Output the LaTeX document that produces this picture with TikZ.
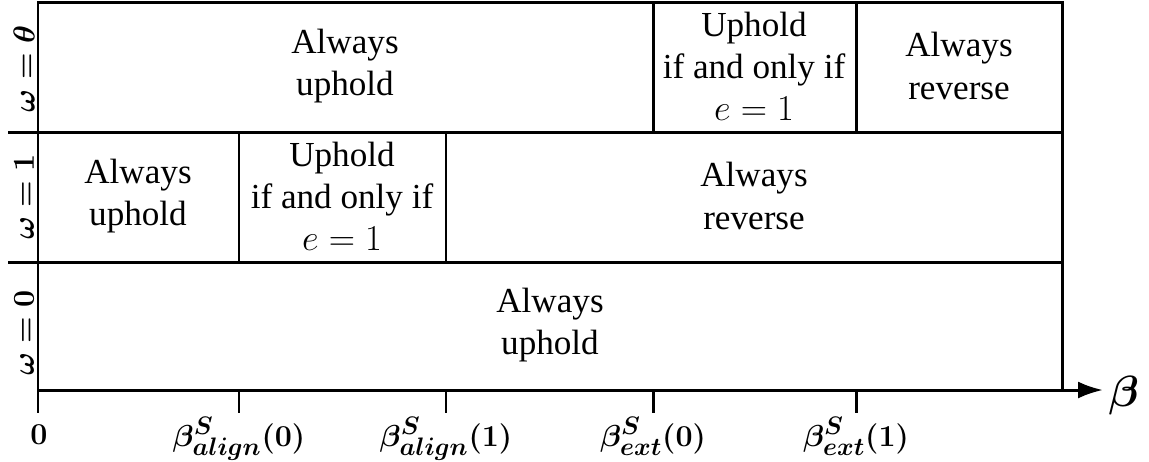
\documentclass[tikz,border=0pt]{standalone}
\usepackage{fontspec}
\setmainfont{Liberation Serif}
\usetikzlibrary{arrows.meta}
\DeclareMathSizes{17}{17}{13.5}{10}
\begin{document}
	\begin{tikzpicture}[x = 0.02cm, y = -0.02cm, line width = 1.7pt,
		cell/.style = {align = center, font = \fontsize{20}{24}\selectfont},
		rowlab/.style = {rotate = 90, font = \fontsize{17}{20}\selectfont\boldmath},
		ticklab/.style = {anchor = base, inner sep = 0, font = \fontsize{17}{20}\selectfont\boldmath}]
		\useasboundingbox (0,0) rectangle (1149,461);
		% grid of the three rows
		\draw (38,2.5) rectangle (1062,390);
		\draw (8,132) -- (1062,132);
		\draw (8,262) -- (1062,262);
		\draw (653,2.5) -- (653,132);
		\draw (856,2.5) -- (856,132);
		\draw (239,132) -- (239,262);
		\draw (446,132) -- (446,262);
		% axis and ticks
		\coordinate (b0) at (38,390);
		\coordinate (ba0) at (239,390);
		\coordinate (ba1) at (446,390);
		\coordinate (be0) at (653,390);
		\coordinate (be1) at (856,390);
		\coordinate (tip) at (1103,390);
		\draw [-{Latex[length = 5mm, width = 3.4mm]}] (b0) -- (tip);
		\foreach \t in {b0, ba0, ba1, be0, be1}
			\draw (\t) -- ++(0,23);
		\node [ticklab] (l0) at (39,444) {$0$};
		\node [ticklab] (la0) at (239,446) {$\beta^S_{align}(0)$};
		\node [ticklab] (la1) at (446,446) {$\beta^S_{align}(1)$};
		\node [ticklab] (le0) at (653,446) {$\beta^S_{ext}(0)$};
		\node [ticklab] (le1) at (856,446) {$\beta^S_{ext}(1)$};
		\node [anchor = base west, inner sep = 0, font = \fontsize{27}{30}\selectfont\boldmath] (betalab) at (1107,406) {$\beta$};
		% row labels
		\node [rowlab] (w2) at (24,69) {$\omega = \theta$};
		\node [rowlab] (w1) at (24,197) {$\omega = 1$};
		\node [rowlab] (w0) at (24,333) {$\omega = 0$};
		% cells
		\node [cell] (c21) at (345,66) {Always\\uphold};
		\node [cell] (c22) at (754,66) {Uphold\\if and only if\\$e = 1$};
		\node [cell] (c23) at (959,66) {Always\\reverse};
		\node [cell] (c11) at (138,196) {Always\\uphold};
		\node [cell] (c12) at (342,196) {Uphold\\if and only if\\$e = 1$};
		\node [cell] (c13) at (754,196) {Always\\reverse};
		\node [cell] (c01) at (550,325) {Always\\uphold};
	\end{tikzpicture}
\end{document}
